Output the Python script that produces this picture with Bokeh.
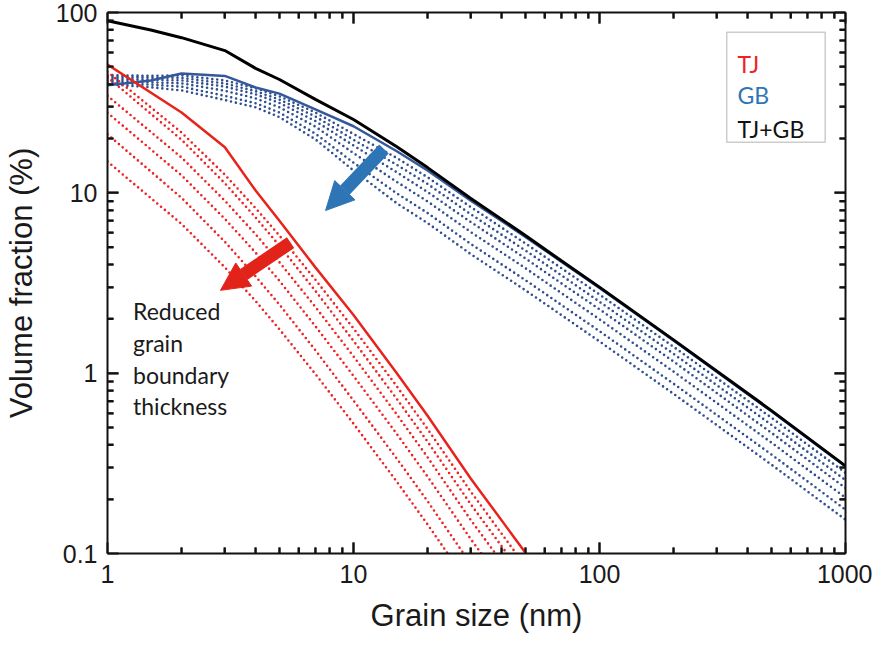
from bokeh.plotting import figure
from bokeh.models import (LogAxis, FixedTicker, CustomJSTickFormatter, Arrow,
                          NormalHead, BoxAnnotation, ColumnDataSource)
from bokeh.core.properties import value
from bokeh.embed import file_html
from bokeh.resources import INLINE

# ---------------- data ----------------
# grain size grid for the triple-junction (TJ) curves, nm
d_tj = [1, 2, 3, 4, 5, 7, 10, 15, 20, 30, 50, 70]
tj_solid = [51.5, 27.9, 17.9, 10.3, 7.0, 3.86, 2.1, 1.0, 0.58, 0.26, 0.101, 0.05]
tj_dot1 = [46.9, 21.6, 12.6, 8.22, 5.79, 3.30, 1.77, 0.845, 0.49, 0.22, 0.085, 0.042]
tj_dot2 = [43.8, 19.7, 11.3, 7.30, 5.09, 2.86, 1.51, 0.72, 0.417, 0.187, 0.0726, 0.036]
tj_dot3 = [34.5, 15.7, 9.04, 5.89, 4.12, 2.33, 1.24, 0.59, 0.342, 0.153, 0.0596, 0.0295]
tj_dot4 = [27.8, 12.5, 7.17, 4.66, 3.25, 1.82, 0.966, 0.46, 0.267, 0.12, 0.0465, 0.023]
tj_dot5 = [21.1, 9.38, 5.35, 3.44, 2.40, 1.34, 0.705, 0.336, 0.195, 0.0873, 0.0339, 0.0168]
tj_dot6 = [14.9, 6.72, 3.86, 2.51, 1.75, 0.989, 0.525, 0.25, 0.145, 0.065, 0.025, 0.0125]

# grain size grid for the grain-boundary (GB) and total curves, nm
d_gb = [1, 1.5, 2, 3, 4, 5, 7, 10, 15, 20, 30, 50, 70, 100, 200, 500, 1000]
gb_solid = [39.5, 42.0, 45.9, 44.5, 38.4, 35.5, 29.0, 23.4, 17.0, 13.3, 9.05, 5.7, 4.15, 2.97, 1.52, 0.615, 0.304]
gb_dot1 = [45.0, 44.5, 44.8, 42.0, 38.0, 34.3, 27.9, 21.2, 15.6, 12.2, 8.33, 5.24, 3.82, 2.73, 1.40, 0.566, 0.280]
gb_dot2 = [44.0, 43.5, 43.4, 40.4, 36.6, 32.9, 26.5, 19.7, 14.3, 11.2, 7.60, 4.79, 3.49, 2.49, 1.28, 0.517, 0.255]
gb_dot3 = [43.0, 42.3, 42.0, 38.8, 35.2, 31.5, 25.0, 18.3, 13.0, 10.1, 6.88, 4.33, 3.15, 2.26, 1.16, 0.467, 0.231]
gb_dot4 = [42.0, 41.0, 40.5, 36.8, 33.4, 29.8, 23.3, 16.6, 11.5, 8.96, 6.06, 3.82, 2.78, 1.99, 1.02, 0.412, 0.204]
gb_dot5 = [41.0, 39.8, 38.8, 34.5, 31.4, 27.9, 21.3, 14.7, 9.93, 7.73, 5.20, 3.28, 2.39, 1.71, 0.874, 0.354, 0.175]
gb_dot6 = [40.0, 38.5, 37.0, 32.7, 29.8, 26.3, 19.8, 13.3, 8.75, 6.80, 4.57, 2.88, 2.10, 1.50, 0.768, 0.311, 0.154]
total = [90.0, 80.0, 72.5, 61.5, 49.0, 42.5, 33.0, 25.5, 18.0, 13.8, 9.3, 5.8, 4.2, 3.0, 1.53, 0.62, 0.306]

x_ticks = [1, 10, 100, 1000]
y_ticks = [0.1, 1, 10, 100]
legend_labels = ["TJ", "GB", "TJ+GB"]
note_lines = ["Reduced", "grain", "boundary", "thickness"]
x_title = "Grain size (nm)"
y_title = "Volume fraction (%)"

# ---------------- styling ----------------
RED = "#EE2222"
RED_SOLID = "#E8231C"
BLUE_DOT = "#2E4E8E"
BLUE_SOLID = "#34589A"
BLUE_ARROW = "#2E75B6"
RED_ARROW = "#E2231A"
AXIS_FONT = "Liberation Sans"
NOTE_FONT = "Lato"
INK = "#111111"
FRAME_W, FRAME_H = 738, 541
MAJOR_LEN, MINOR_LEN = 11, 6
NAN = float("nan")

p = figure(x_axis_type="log", y_axis_type="log",
           x_range=(x_ticks[0], x_ticks[-1]), y_range=(y_ticks[0], y_ticks[-1]),
           frame_width=FRAME_W, frame_height=FRAME_H,
           min_border_left=102, min_border_right=27,
           min_border_top=12, min_border_bottom=86,
           output_backend="svg", toolbar_location=None)
p.xgrid.visible = False
p.ygrid.visible = False
p.outline_line_color = None
p.background_fill_color = "white"
p.border_fill_color = "white"

x_minor = [m * t for t in x_ticks[:-1] for m in range(2, 10)]
y_minor = [m * t for t in y_ticks[:-1] for m in range(2, 10)]


def style_axis(ax, ticks, minor, show_labels):
    ax.ticker = FixedTicker(ticks=ticks, minor_ticks=minor)
    ax.axis_line_width = 2
    ax.axis_line_color = INK
    ax.major_tick_line_color = INK
    ax.major_tick_line_width = 2
    ax.minor_tick_line_color = INK
    ax.minor_tick_line_width = 2
    ax.major_tick_in = MAJOR_LEN
    ax.major_tick_out = 0
    ax.minor_tick_in = MINOR_LEN
    ax.minor_tick_out = 0
    if show_labels:
        ax.formatter = CustomJSTickFormatter(code="return tick.toString();")
        ax.major_label_text_font = AXIS_FONT
        ax.major_label_text_font_size = "25px"
        ax.major_label_text_color = "#1a1a1a"
        ax.axis_label_text_font = AXIS_FONT
        ax.axis_label_text_font_size = "31px"
        ax.axis_label_text_font_style = "normal"
        ax.axis_label_text_color = "#1a1a1a"
    else:
        ax.formatter = CustomJSTickFormatter(code="return '';")
        ax.major_label_text_font_size = "1px"
        ax.major_label_standoff = 0


style_axis(p.xaxis[0], x_ticks, x_minor, True)
style_axis(p.yaxis[0], y_ticks, y_minor, True)
p.xaxis[0].axis_label = x_title
p.yaxis[0].axis_label = y_title
p.xaxis[0].major_label_standoff = 11
p.xaxis[0].axis_label_standoff = 12
p.yaxis[0].major_label_standoff = 10
p.yaxis[0].axis_label_standoff = 14

top_ax = LogAxis()
style_axis(top_ax, x_ticks, x_minor, False)
p.add_layout(top_ax, "above")
right_ax = LogAxis()
style_axis(right_ax, y_ticks, y_minor, False)
p.add_layout(right_ax, "right")

# ---------------- inward tick marks drawn as one broken polyline ----------------
x_lo, x_hi = x_ticks[0], x_ticks[-1]
y_lo, y_hi = y_ticks[0], y_ticks[-1]
px_per_dec_x = FRAME_W / 3.0
px_per_dec_y = FRAME_H / 3.0

tick_xs, tick_ys = [], []
for vals, length in ((x_ticks[1:-1], MAJOR_LEN), (x_minor, MINOR_LEN)):
    fy = 10 ** (length / px_per_dec_y)
    for v in vals:
        tick_xs += [v, v, NAN, v, v, NAN]
        tick_ys += [y_lo, y_lo * fy, NAN, y_hi, y_hi / fy, NAN]
for vals, length in ((y_ticks[1:-1], MAJOR_LEN), (y_minor, MINOR_LEN)):
    fx = 10 ** (length / px_per_dec_x)
    for v in vals:
        tick_xs += [x_lo, x_lo * fx, NAN, x_hi, x_hi / fx, NAN]
        tick_ys += [v, v, NAN, v, v, NAN]
p.line(tick_xs, tick_ys, line_color=INK, line_width=2)

# ---------------- curves ----------------
for ys in [gb_dot1, gb_dot2, gb_dot3, gb_dot4, gb_dot5, gb_dot6]:
    p.line(d_gb, ys, line_color=BLUE_DOT, line_width=2.6,
           line_dash="0 5", line_cap="round")
for ys in [tj_dot1, tj_dot2, tj_dot3, tj_dot4, tj_dot5, tj_dot6]:
    p.line(d_tj, ys, line_color=RED, line_width=2.6,
           line_dash="0 5", line_cap="round")

p.line(d_gb, gb_solid, line_color=BLUE_SOLID, line_width=2.5)
p.line(d_tj, tj_solid, line_color=RED_SOLID, line_width=2.5)
p.line(d_gb, total, line_color="#000000", line_width=3)

# ---------------- arrows ----------------
p.add_layout(Arrow(end=NormalHead(size=28, fill_color=BLUE_ARROW, line_color=BLUE_ARROW),
                   x_start=13.3, y_start=17.5, x_end=7.7, y_end=7.98,
                   line_color=BLUE_ARROW, line_width=13))
p.add_layout(Arrow(end=NormalHead(size=28, fill_color=RED_ARROW, line_color=RED_ARROW),
                   x_start=5.55, y_start=5.3, x_end=2.88, y_end=2.88,
                   line_color=RED_ARROW, line_width=13))

# ---------------- annotation text ----------------
note_src = ColumnDataSource(dict(x=[1.27] * 4, y=[2.2, 1.47, 0.98, 0.655], t=note_lines))
p.text("x", "y", text="t", source=note_src, text_font=value(NOTE_FONT),
       text_font_size="23px", text_color="#1a1a1a", text_baseline="alphabetic")

# ---------------- legend box ----------------
p.add_layout(BoxAnnotation(left=329, right=827, top=77.6, bottom=19.1,
                           fill_color=None, line_color="#555555", line_width=1.5))
leg_src = ColumnDataSource(dict(x=[364] * 3, y=[51.5, 34.7, 22.5], t=legend_labels,
                                c=[RED, BLUE_ARROW, INK]))
p.text("x", "y", text="t", source=leg_src, text_color="c",
       text_font=value(NOTE_FONT), text_font_size="23px", text_baseline="alphabetic")

open("out.html", "w").write(file_html(p, INLINE))
